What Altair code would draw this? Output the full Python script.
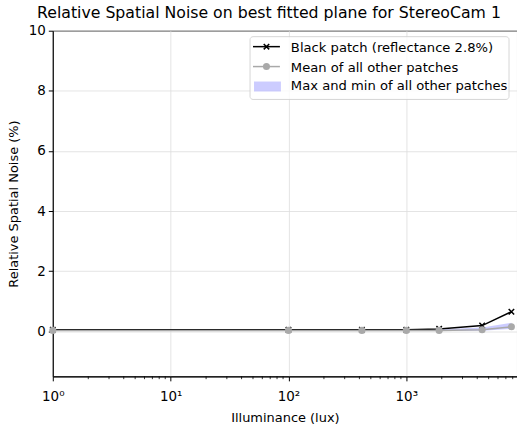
import altair as alt
import pandas as pd

# ---- data ----
lux = [1, 100, 420, 1000, 1900, 4400, 7800]
black_patch = [0.05, 0.05, 0.05, 0.05, 0.08, 0.19, 0.65]
mean_other = [0.03, 0.03, 0.03, 0.03, 0.03, 0.05, 0.15]
max_other = [0.05, 0.05, 0.05, 0.06, 0.07, 0.13, 0.28]
min_other = [0.01, 0.01, 0.01, 0.01, 0.01, 0.02, 0.08]

x_major = [1, 10, 100, 1000]
x_minor = [m * 10 ** k for k in range(4) for m in range(2, 10) if m * 10 ** k < 8700]
y_ticks = [0, 2, 4, 6, 8, 10]

legend_labels = [
    "Black patch (reflectance 2.8%)",
    "Mean of all other patches",
    "Max and min of all other patches",
]
title_text = "Relative Spatial Noise on best fitted plane for StereoCam 1"

df = pd.DataFrame({"lux": lux, "black": black_patch, "mean": mean_other,
                   "max": max_other, "min": min_other})
minor_df = pd.DataFrame({"t": x_minor})

W, H = 466, 347
FONT = "DejaVu Sans"

xscale = alt.Scale(type="log", domain=[1, 8700], nice=False)
yscale = alt.Scale(domain=[-1.5, 10], nice=False, zero=False)
xaxis = alt.Axis(values=x_major,
                 labelExpr="datum.value == 1 ? '10⁰' : datum.value == 10 ? '10¹' : datum.value == 100 ? '10²' : '10³'",
                 title="Illuminance (lux)", grid=True, tickSize=4.5, labelPadding=9,
                 titlePadding=8, labelFlush=False, labelOverlap=False)
yaxis = alt.Axis(values=y_ticks, title="Relative Spatial Noise (%)", grid=True,
                 tickSize=4.5, labelPadding=3, titlePadding=8, labelFlush=False)

X = lambda f: alt.X(f, type="quantitative", scale=xscale, axis=xaxis)
Y = lambda f: alt.Y(f, type="quantitative", scale=yscale, axis=yaxis)

base = alt.Chart(df)

band = base.mark_area(color="blue", opacity=0.2).encode(
    x=X("lux"), y=Y("max"), y2="min")

black_line = base.mark_line(color="black", strokeWidth=1.5).encode(
    x=X("lux"), y=Y("black"))
xshape = "M-1,-1L1,1M-1,1L1,-1"
black_pts = base.mark_point(shape=xshape, filled=False, color="black",
                            size=30, strokeWidth=1.5, opacity=1).encode(
    x=X("lux"), y=Y("black"))

mean_line = base.mark_line(color="#a9a9a9", strokeWidth=1.5).encode(
    x=X("lux"), y=Y("mean"))
mean_pts = base.mark_point(shape="circle", filled=True, color="#a9a9a9",
                           size=50, opacity=1).encode(
    x=X("lux"), y=Y("mean"))

minor = alt.Chart(minor_df).mark_rule(color="black", strokeWidth=0.8).encode(
    x=X("t"), y=alt.value(H), y2=alt.value(H + 2.8))

# ---- legend (drawn inside the plot, upper right) ----
one = pd.DataFrame({"a": [0]})
lg = alt.Chart(one)
lx0, lx1 = 201, 228
rows = [16, 36, 55]
box = lg.mark_rect(fill="white", opacity=0.85, stroke="#d0d0d0", strokeWidth=1,
                   cornerRadius=3).encode(
    x=alt.value(198), x2=alt.value(458), y=alt.value(6), y2=alt.value(69))
l1 = lg.mark_rule(color="black", strokeWidth=1.5).encode(
    x=alt.value(lx0), x2=alt.value(lx1), y=alt.value(rows[0]))
l1p = lg.mark_point(shape=xshape, filled=False, color="black", size=30,
                    strokeWidth=1.5, opacity=1).encode(
    x=alt.value((lx0 + lx1) / 2), y=alt.value(rows[0]))
l2 = lg.mark_rule(color="#a9a9a9", strokeWidth=1.5).encode(
    x=alt.value(lx0), x2=alt.value(lx1), y=alt.value(rows[1]))
l2p = lg.mark_point(shape="circle", filled=True, color="#a9a9a9", size=50,
                    opacity=1).encode(
    x=alt.value((lx0 + lx1) / 2), y=alt.value(rows[1]))
l3 = lg.mark_rect(color="blue", opacity=0.2).encode(
    x=alt.value(lx0 + 1), x2=alt.value(lx1 + 1), y=alt.value(rows[2] - 4),
    y2=alt.value(rows[2] + 6))
texts = [
    lg.mark_text(text=lab, align="left", baseline="middle", font=FONT,
                 fontSize=13.2, color="black").encode(
        x=alt.value(239), y=alt.value(r + 1))
    for lab, r in zip(legend_labels, rows)
]

chart = alt.layer(band, black_line, black_pts, mean_line, mean_pts, minor,
                  box, l1, l1p, l2, l2p, l3, *texts).properties(
    width=W, height=H,
    autosize=alt.AutoSizeParams(type="none"),
    padding={"left": 53, "top": 30, "right": 0, "bottom": 51},
    title=alt.TitleParams(title_text, font=FONT, fontSize=15.8,
                          fontWeight="normal", color="black", anchor="middle",
                          dx=-16, offset=2),
).configure_view(stroke="black", strokeWidth=1).configure_axis(
    labelFont=FONT, titleFont=FONT, labelFontSize=13.5, titleFontSize=13,
    titleFontWeight="normal", labelColor="black", titleColor="black",
    tickColor="black", domainColor="black", gridColor="#dddddd",
    gridWidth=0.8,
)

chart.save("out.html", embed_options={"renderer": "svg", "actions": False})
